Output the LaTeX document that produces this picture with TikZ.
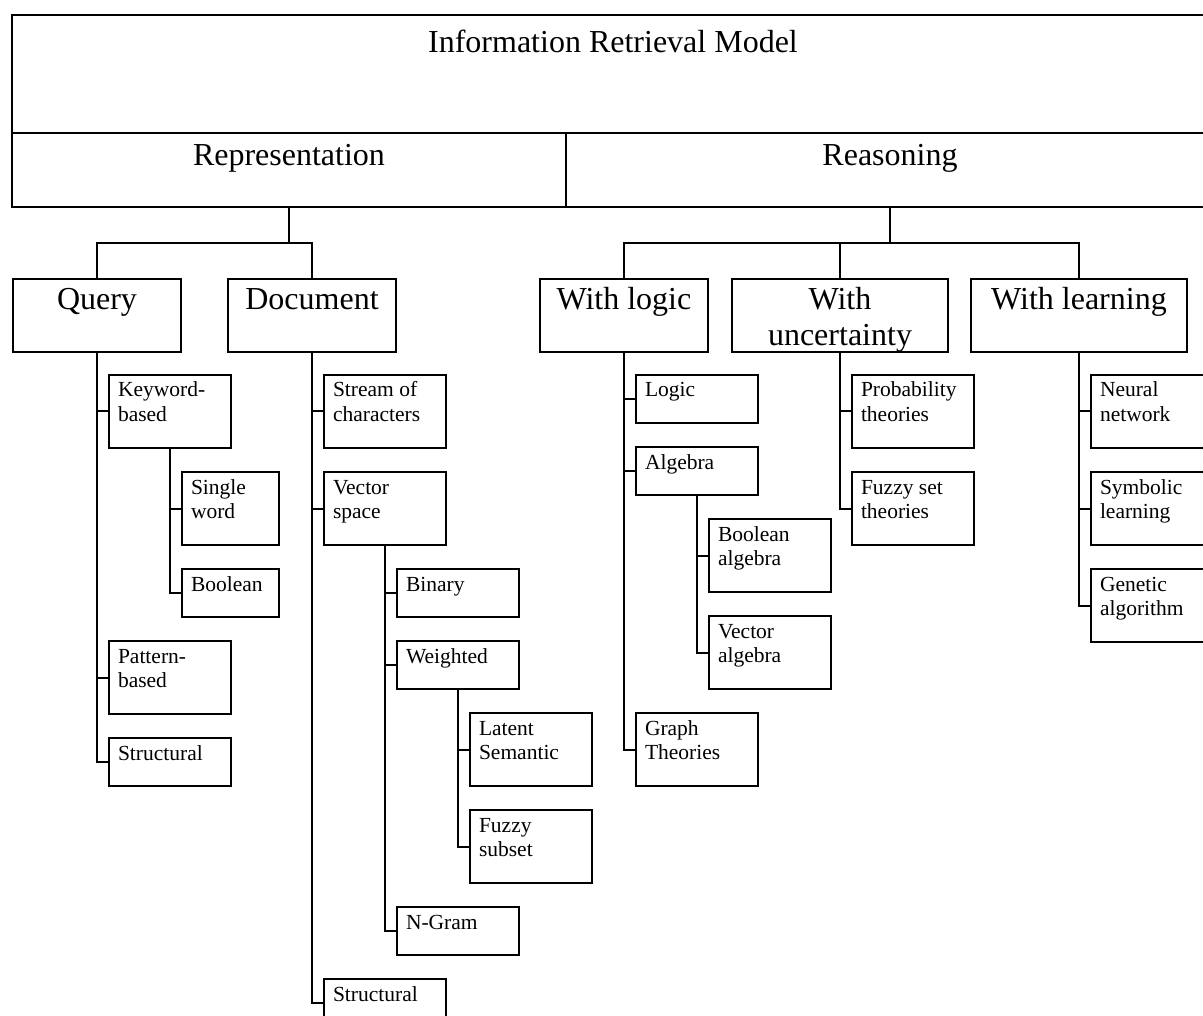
\documentclass[tikz,border=0pt]{standalone}
\usepackage{fontspec}
\setmainfont{Liberation Serif}
\usetikzlibrary{positioning}
\tikzset{
  mainbox/.style={draw, line width=2pt, outer sep=0pt, inner sep=0pt, anchor=north west,
    align=flush center, font=\fontsize{32}{36}\selectfont},
  headbox/.style={draw, line width=2pt, outer sep=0pt, inner sep=0pt, anchor=north,
    text width=#1, align=flush center, text height=31pt, text depth=42pt, font=\fontsize{32}{36}\selectfont},
  headbox/.default=168pt,
  leafbox/.style={draw, line width=2pt, outer sep=0pt, inner xsep=9pt, inner ysep=0pt,
    text width=104pt, align=flush left, text height=22pt, text depth=51pt, font=\fontsize{21.5}{24.3}\selectfont},
  leafone/.style={leafbox, text depth=26pt},
  narrowbox/.style={leafbox, text width=79pt},
  branch/.style={line width=2pt}
}
\begin{document}
\begin{tikzpicture}[x=1pt, y=-1pt]
\useasboundingbox (0,0) rectangle (1203,1016);
\fill[white] (0,0) rectangle (1203,1016);
\clip (0,0) rectangle (1203,1016);

% top of the tree
\node[mainbox, text width=1202pt, text height=38pt, text depth=80pt] (irm) at (12,15) {Information Retrieval Model};
\node[mainbox, text width=554pt, text height=33pt, text depth=41pt] (repr) at (irm.south west) {Representation};
\node[mainbox, text width=648pt, text height=33pt, text depth=41pt] (reas) at (repr.north east) {Reasoning};

% second level
\node[headbox] (query) at (97,279) {Query};
\node[headbox, right=47pt of query] (doc) {Document};
\node[headbox, right=144pt of doc] (wlogic) {With logic};
\node[headbox=216pt, right=24pt of wlogic] (wunc) {With\\uncertainty};
\node[headbox=216pt, right=23pt of wunc] (wlearn) {With learning};

\draw[branch] (repr.south) -- ++(0,36) -| (query.north);
\draw[branch] (repr.south) -- ++(0,36) -| (doc.north);
\draw[branch] (reas.south) -- ++(0,36) -| (wlogic.north);
\draw[branch] (reas.south) -- ++(0,36) -| (wunc.north);
\draw[branch] (reas.south) -- ++(0,36) -| (wlearn.north);

% query
\node[leafbox, below right=23pt and 12pt of query.south] (kwq) {Keyword-\\based};
\node[narrowbox, below right=24pt and 12pt of kwq.south] (single) {Single\\word};
\node[narrowbox, leafone, text width=79pt, below=24pt of single] (boolq) {Boolean};
\node[leafbox, anchor=north west, yshift=-24pt] (patq) at (kwq.south west |- boolq.south) {Pattern-\\based};
\node[leafone, below=24pt of patq] (strq) {Structural};

\draw[branch] (query.south) |- (kwq.west);
\draw[branch] (query.south) |- (patq.west);
\draw[branch] (query.south) |- (strq.west);
\draw[branch] (kwq.south) |- (single.west);
\draw[branch] (kwq.south) |- (boolq.west);

% document
\node[leafbox, below right=23pt and 12pt of doc.south] (stream) {Stream of\\characters};
\node[leafbox, below=24pt of stream] (vspace) {Vector\\space};
\node[leafone, below right=24pt and 12pt of vspace.south] (binary) {Binary};
\node[leafone, below=24pt of binary] (weighted) {Weighted};
\node[leafbox, below right=24pt and 12pt of weighted.south] (latent) {Latent\\Semantic};
\node[leafbox, below=24pt of latent] (fuzzy) {Fuzzy\\subset};
\node[leafone, anchor=north west, yshift=-24pt] (ngram) at (binary.south west |- fuzzy.south) {N-Gram};
\node[leafone, anchor=north west, yshift=-24pt] (strd) at (stream.south west |- ngram.south) {Structural};

\draw[branch] (doc.south) |- (stream.west);
\draw[branch] (doc.south) |- (vspace.west);
\draw[branch] (doc.south) |- (strd.west);
\draw[branch] (vspace.south) |- (binary.west);
\draw[branch] (vspace.south) |- (weighted.west);
\draw[branch] (vspace.south) |- (ngram.west);
\draw[branch] (weighted.south) |- (latent.west);
\draw[branch] (weighted.south) |- (fuzzy.west);

% with logic
\node[leafone, below right=23pt and 12pt of wlogic.south] (logic) {Logic};
\node[leafone, below=24pt of logic] (algebra) {Algebra};
\node[leafbox, below right=24pt and 12pt of algebra.south] (boolalg) {Boolean\\algebra};
\node[leafbox, below=24pt of boolalg] (vecalg) {Vector\\algebra};
\node[leafbox, anchor=north west, yshift=-24pt] (graph) at (logic.south west |- vecalg.south) {Graph\\Theories};

\draw[branch] (wlogic.south) |- (logic.west);
\draw[branch] (wlogic.south) |- (algebra.west);
\draw[branch] (wlogic.south) |- (graph.west);
\draw[branch] (algebra.south) |- (boolalg.west);
\draw[branch] (algebra.south) |- (vecalg.west);

% with uncertainty
\node[leafbox, below right=23pt and 12pt of wunc.south] (prob) {Probability\\theories};
\node[leafbox, below=24pt of prob] (fuzzyset) {Fuzzy set\\theories};

\draw[branch] (wunc.south) |- (prob.west);
\draw[branch] (wunc.south) |- (fuzzyset.west);

% with learning
\node[leafbox, below right=23pt and 12pt of wlearn.south] (neural) {Neural\\network};
\node[leafbox, below=24pt of neural] (symb) {Symbolic\\learning};
\node[leafbox, below=24pt of symb] (genetic) {Genetic\\algorithm};

\draw[branch] (wlearn.south) |- (neural.west);
\draw[branch] (wlearn.south) |- (symb.west);
\draw[branch] (wlearn.south) |- (genetic.west);
\end{tikzpicture}
\end{document}
